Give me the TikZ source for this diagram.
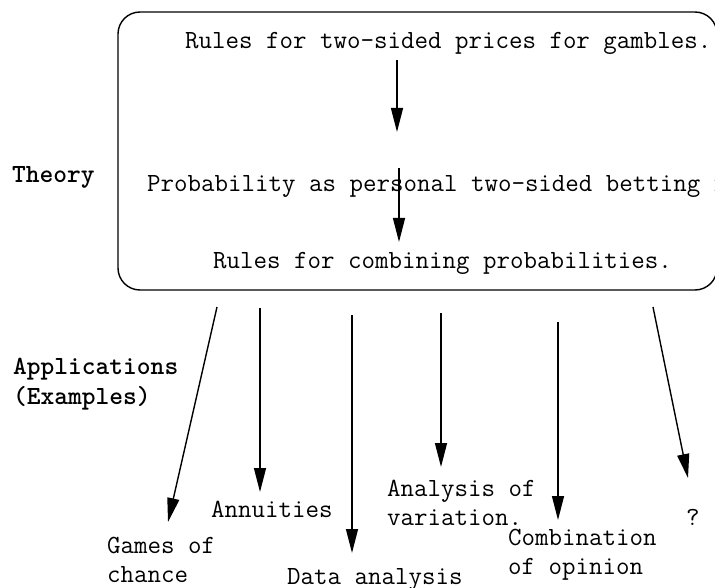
\documentclass[tikz,border=0pt]{standalone}
\usepackage{fontspec}
\usetikzlibrary{arrows.meta}
\begin{document}
\begin{tikzpicture}[x=1pt,y=-1pt,
  txt/.style={inner sep=0pt,anchor=base west,align=left,font=\fontsize{26.2}{29}\selectfont\ttfamily},
  lbl/.style={txt,font=\fontsize{26.2}{30}\selectfont\ttfamily\bfseries},
  arr/.style={line width=1.4pt,-{Triangle[length=24pt,width=12pt]}},
  frame/.style={line width=1.4pt,rounded corners=22pt}]
\useasboundingbox (0,0) rectangle (715,588);
\clip (0,0) rectangle (715,588);
\draw[frame] (118,12) rectangle (717,290);
\node[txt] (t1) at (185,49) {Rules for two-sided prices for gambles.};
\node[txt] (t2) at (147,192) {Probability as personal two-sided betting rates.};
\node[txt] (t3) at (213,269) {Rules for combining probabilities.};
\node[lbl] (theory) at (12,183) {Theory};
\node[lbl] (apps) at (13,404) {Applications\\(Examples)};
\node[txt] (games) at (107,582) {Games of\\chance};
\node[txt] (annu) at (211,517) {Annuities};
\node[txt] (data) at (287,584) {Data analysis};
\node[txt] (anav) at (387,525) {Analysis of\\variation.};
\node[txt] (comb) at (508,574) {Combination\\of opinion};
\node[txt] (q) at (686,525) {?};
\coordinate (a1s) at (397,60);  \coordinate (a1e) at (397,132);
\coordinate (a2s) at (399,168); \coordinate (a2e) at (399,242);
\coordinate (g1) at (217,307);  \coordinate (g2) at (168,522);
\coordinate (n1) at (260,308);  \coordinate (n2) at (260,492);
\coordinate (d1) at (352,315);  \coordinate (d2) at (352,553);
\coordinate (v1) at (441,313);  \coordinate (v2) at (441,467);
\coordinate (c1) at (558,322);  \coordinate (c2) at (558,520);
\coordinate (q1) at (653,307);  \coordinate (q2) at (688,478);
\draw[arr] (a1s) -- (a1e);
\draw[arr] (a2s) -- (a2e);
\draw[arr] (g1) -- (g2);
\draw[arr] (n1) -- (n2);
\draw[arr] (d1) -- (d2);
\draw[arr] (v1) -- (v2);
\draw[arr] (c1) -- (c2);
\draw[arr] (q1) -- (q2);
\end{tikzpicture}
\end{document}
